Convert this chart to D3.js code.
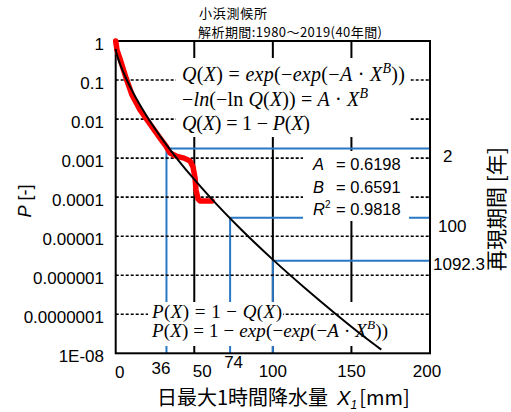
<!DOCTYPE html>
<html><head><meta charset="utf-8">
<script src="https://cdn.jsdelivr.net/npm/d3@7"></script>
<style>body{margin:0;background:#fff}svg{display:block}</style>
</head><body>
<script>
// ---------- data ----------
const titleLines = ["小浜測候所", "解析期間:1980～2019(40年間)"];
const yTickValues = [1, 1e-1, 1e-2, 1e-3, 1e-4, 1e-5, 1e-6, 1e-7, 1e-8];
const yTickLabels = ["1", "0.1", "0.01", "0.001", "0.0001", "0.00001", "0.000001", "0.0000001", "1E-08"];
const xTickValues = [0, 50, 100, 150, 200];
const xTickLabels = ["0", "50", "100", "150", "200"];
const gridXValues = [50, 100, 150];
const gridYValues = [1e-1, 1e-2, 1e-3, 1e-4, 1e-5, 1e-6, 1e-7];
const obsX = [0, 0.8, 3.4, 6.6, 10.4, 15.5, 21.8, 28.2, 32, 34.6, 38.4, 43.5, 47.3, 49.2, 50.5, 51.1, 52.4, 53.6, 61.3];
const obsP = [1, 0.59, 0.29, 0.113, 0.0414, 0.0171, 0.00748, 0.00327, 0.00204, 0.00135, 0.00113, 0.0010, 0.00084, 0.00059, 0.00031, 0.000152, 0.00009, 0.0000797, 0.0000797];
// fitted curve
const fitX = [0, 0.1, 0.5, 1, 2, 3, 5, 7, 10, 15, 20, 30, 40, 50, 60, 80, 100, 120, 140, 160, 169];
const fitP = [0.632, 0.582, 0.491, 0.416, 0.313, 0.243, 0.154, 0.1015, 0.0575, 0.0246, 0.01145, 0.00293, 0.000868, 0.000284, 0.0001, 0.0000146, 0.00000251, 0.000000485, 0.000000102, 0.0000000232, 0.0000000124];
// return period markers
const returnX = [32.3, 72.8, 100];
const returnP = [0.00175, 0.0000298, 0.00000235];
const returnLabels = ["2", "100", "1092.3"];
const returnXLabels = ["36", "74"];
const paramNames = ["A", "B", "R"];
const paramValues = ["0.6198", "0.6591", "0.9818"];
const xTitle = ["日最大1時間降水量", "X", "1", "[mm]"];
const yTitle = ["P", " [-]"];
const rightTitle = "再現期間 [年]";

// ---------- layout ----------
const W = 511, H = 412;
const L = 115.7, R = 430, T = 41, B = 353.3;
const CJK = "'Noto Sans CJK JP', sans-serif";
const SANS = "'Liberation Sans', Arial, sans-serif";
const SERIF = "'Liberation Serif', 'Times New Roman', serif";
const BLUE = "#2878c6";

const svg = d3.select("body").append("svg").attr("width", W).attr("height", H);
svg.append("rect").attr("width", W).attr("height", H).attr("fill", "#fff");

const x = d3.scaleLinear().domain([0, 200]).range([L, R]);
const y = d3.scaleLog().domain([1, 1e-8]).range([T, B]);

// vertical grid
svg.append("g").selectAll("line").data(gridXValues).join("line")
  .attr("x1", d => x(d)).attr("x2", d => x(d)).attr("y1", T).attr("y2", B)
  .attr("stroke", "#000").attr("stroke-width", 2);

// blue return-period lines
const blue = svg.append("g").attr("stroke", BLUE).attr("stroke-width", 2).attr("fill", "none");
returnX.forEach((xv, i) => {
  blue.append("line").attr("x1", x(xv)).attr("x2", x(xv)).attr("y1", y(returnP[i])).attr("y2", B);
  blue.append("line").attr("x1", x(xv)).attr("x2", R).attr("y1", y(returnP[i])).attr("y2", y(returnP[i]));
});

// bottom formula box (under dotted lines)
svg.append("rect").attr("x", 148).attr("y", 302).attr("width", 244).attr("height", 44).attr("fill", "#fff");

// dotted horizontal grid
svg.append("g").selectAll("line").data(gridYValues).join("line")
  .attr("x1", L).attr("x2", R).attr("y1", d => y(d)).attr("y2", d => y(d))
  .attr("stroke", "#000").attr("stroke-width", 1.6).attr("stroke-dasharray", "3,2");

// text boxes
svg.append("rect").attr("x", 176).attr("y", 58).attr("width", 233).attr("height", 79).attr("fill", "#fff");
svg.append("rect").attr("x", 303).attr("y", 151).attr("width", 106).attr("height", 70).attr("fill", "#fff");
svg.append("rect").attr("x", 148).attr("y", 304).attr("width", 135).attr("height", 19).attr("fill", "#fff");

// frame
svg.append("rect").attr("x", L).attr("y", T).attr("width", R - L).attr("height", B - T)
  .attr("fill", "none").attr("stroke", "#000").attr("stroke-width", 2);

// curves
const obs = obsX.map((v, i) => [v, obsP[i]]);
const fit = fitX.map((v, i) => [v, fitP[i]]);
svg.append("path").datum(obs)
  .attr("d", d3.line().x(d => x(d[0])).y(d => y(d[1])))
  .attr("fill", "none").attr("stroke", "#ff0000").attr("stroke-width", 5.5)
  .attr("stroke-linejoin", "round").attr("stroke-linecap", "round");
svg.append("path").datum(fit)
  .attr("d", d3.line().x(d => x(d[0])).y(d => y(d[1])).curve(d3.curveMonotoneX))
  .attr("fill", "none").attr("stroke", "#000").attr("stroke-width", 2);

// y tick labels
svg.append("g").selectAll("text").data(yTickValues).join("text")
  .attr("x", 104).attr("y", d => y(d) + 8.5).attr("text-anchor", "end")
  .attr("font-family", SANS).attr("font-size", 17).text((d, i) => yTickLabels[i]);

// x tick labels
const xLabelDx = [4, 8, 0, 0, -3];
const xLabelY = [378, 377, 377, 377, 377];
svg.append("g").selectAll("text").data(xTickValues).join("text")
  .attr("x", (d, i) => x(d) + xLabelDx[i]).attr("y", (d, i) => xLabelY[i]).attr("text-anchor", "middle")
  .attr("font-family", SANS).attr("font-size", 17).text((d, i) => xTickLabels[i]);
const rxDx = [-5.5, 3.5], rxY = [374, 367.5];
returnXLabels.forEach((t, i) => {
  svg.append("text").attr("x", x(returnX[i]) + rxDx[i]).attr("y", rxY[i]).attr("text-anchor", "middle")
    .attr("font-family", SANS).attr("font-size", 17).text(t);
});

// right labels
const rlX = [443, 438, 433], rlDy = [13, 14, 9];
returnLabels.forEach((t, i) => {
  svg.append("text").attr("x", rlX[i]).attr("y", y(returnP[i]) + rlDy[i])
    .attr("font-family", SANS).attr("font-size", 17).text(t);
});

// title
svg.append("text").attr("x", 199).attr("y", 18).attr("font-family", CJK).attr("font-size", 13)
  .attr("textLength", 68).attr("lengthAdjust", "spacing").text(titleLines[0]);
svg.append("text").attr("x", 198).attr("y", 37).attr("font-family", CJK).attr("font-size", 13)
  .attr("textLength", 184).attr("lengthAdjust", "spacing").text(titleLines[1]);

// x title
const xt = svg.append("text").attr("x", 157).attr("y", 405).attr("font-family", CJK).attr("font-size", 20);
xt.append("tspan").text(xTitle[0]);
xt.append("tspan").attr("dx", 9).attr("font-family", SANS).attr("font-style", "italic").text(xTitle[1]);
xt.append("tspan").attr("font-family", SANS).attr("font-style", "italic").attr("font-size", 12).attr("dy", 4).text(xTitle[2]);
xt.append("tspan").attr("dx", 2).attr("dy", -4).text(xTitle[3]);

// y title
const yt = svg.append("text").attr("transform", "translate(31,201) rotate(-90)").attr("text-anchor", "middle")
  .attr("font-family", SANS).attr("font-size", 18);
yt.append("tspan").attr("font-style", "italic").text(yTitle[0]);
yt.append("tspan").text(yTitle[1]);

// right title
svg.append("text").attr("transform", "translate(504,209) rotate(-90)").attr("text-anchor", "middle")
  .attr("font-family", CJK).attr("font-size", 21).text(rightTitle);

// formulas
function addMath(xp, yp, size, len, parts) {
  const t = svg.append("text").attr("x", xp).attr("y", yp).attr("font-family", SERIF).attr("font-size", size)
    .attr("textLength", len).attr("lengthAdjust", "spacing");
  parts.forEach(p => {
    const s = t.append("tspan").text(p[0]);
    if (p[1] === "i") s.attr("font-style", "italic");
    if (p[1] === "sup") s.attr("font-style", "italic").attr("font-size", size * 0.7).attr("dy", -8);
    if (p[1] === "after") s.attr("dy", 8);
  });
}
addMath(182, 81, 20, 223, [["Q", "i"], ["(", ""], ["X", "i"], [") = ", ""], ["exp", "i"], ["(−", ""], ["exp", "i"], ["(−", ""], ["A", "i"], [" · ", ""], ["X", "i"], ["B", "sup"], ["))", "after"]]);
addMath(182, 106, 20, 186, [["−", ""], ["ln", "i"], ["(−ln ", ""], ["Q", "i"], ["(", ""], ["X", "i"], [")) = ", ""], ["A", "i"], [" · ", ""], ["X", "i"], ["B", "sup"]]);
addMath(182, 130, 20, 128, [["Q", "i"], ["(", ""], ["X", "i"], [") = 1 − ", ""], ["P", "i"], ["(", ""], ["X", "i"], [")", ""]]);
addMath(152, 318, 19, 130, [["P", "i"], ["(", ""], ["X", "i"], [") = 1 − ", ""], ["Q", "i"], ["(", ""], ["X", "i"], [")", ""]]);
addMath(152, 337, 19, 236, [["P", "i"], ["(", ""], ["X", "i"], [") = 1 − ", ""], ["exp", "i"], ["(−", ""], ["exp", "i"], ["(−", ""], ["A", "i"], [" · ", ""], ["X", "i"], ["B", "sup"], ["))", "after"]]);

// parameters
const pBase = [170, 193, 215];
paramNames.forEach((n, i) => {
  const t = svg.append("text").attr("x", 313).attr("y", pBase[i]).attr("font-family", SANS).attr("font-size", 16.5);
  t.append("tspan").attr("font-style", "italic").text(n);
  if (n === "R") {
    t.append("tspan").attr("font-size", 10).attr("dy", -7).text("2");
    t.append("tspan").attr("x", 336).attr("dy", 7).text("= " + paramValues[i]);
  } else {
    t.append("tspan").attr("x", 336).text("= " + paramValues[i]);
  }
});
</script>
</body></html>
